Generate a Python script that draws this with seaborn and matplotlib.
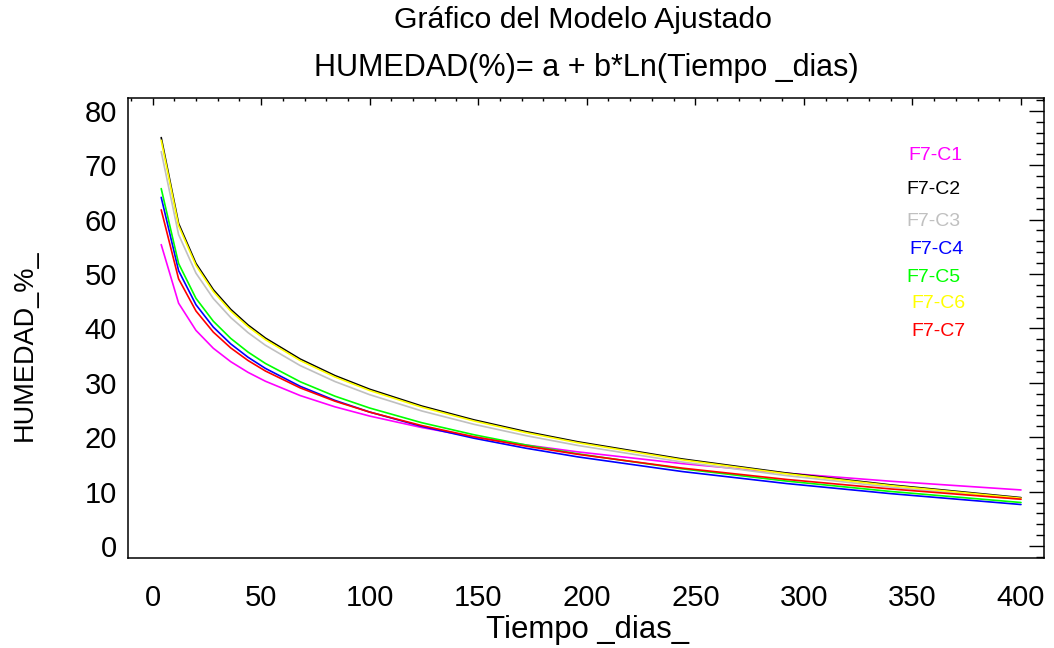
import numpy as np
import pandas as pd
import matplotlib
matplotlib.use("Agg")
import matplotlib.pyplot as plt
import seaborn as sns
from matplotlib.ticker import MultipleLocator

# ---- data ----
tiempo = [4, 12, 20, 28, 36, 44, 52, 68, 84, 100, 124, 148, 172, 196, 244, 292, 340, 400]

f7_c1 = [55.40, 44.64, 39.64, 36.35, 33.89, 31.92, 30.29, 27.66, 25.59, 23.89, 21.78, 20.05, 18.58, 17.30, 15.15, 13.39, 11.91, 10.31]
f7_c2 = [75.08, 59.29, 51.95, 47.12, 43.51, 40.62, 38.22, 34.37, 31.33, 28.82, 25.73, 23.19, 21.03, 19.15, 16.00, 13.42, 11.24, 8.90]
f7_c3 = [72.50, 57.25, 50.16, 45.49, 42.00, 39.22, 36.90, 33.17, 30.24, 27.82, 24.83, 22.38, 20.29, 18.48, 15.44, 12.95, 10.83, 8.58]
f7_c4 = [64.09, 50.62, 44.36, 40.24, 37.16, 34.70, 32.65, 29.36, 26.77, 24.63, 21.99, 19.82, 17.98, 16.38, 13.69, 11.49, 9.63, 7.63]
f7_c5 = [65.70, 51.93, 45.53, 41.32, 38.17, 35.65, 33.56, 30.20, 27.55, 25.37, 22.67, 20.46, 18.57, 16.94, 14.19, 11.94, 10.03, 8.00]
f7_c6 = [74.59, 58.89, 51.59, 46.78, 43.19, 40.32, 37.94, 34.10, 31.08, 28.59, 25.52, 22.99, 20.84, 18.98, 15.84, 13.28, 11.11, 8.78]
f7_c7 = [61.80, 49.11, 43.21, 39.32, 36.42, 34.10, 32.17, 29.07, 26.63, 24.62, 22.14, 20.09, 18.36, 16.85, 14.32, 12.24, 10.49, 8.61]

series_names = ["F7-C1", "F7-C2", "F7-C3", "F7-C4", "F7-C5", "F7-C6", "F7-C7"]
series_values = [f7_c1, f7_c2, f7_c3, f7_c4, f7_c5, f7_c6, f7_c7]
series_colors = ["#FF00FF", "#000000", "#C0C0C0", "#0000FF", "#00FF00", "#FFFF00", "#FF0000"]

x_ticks = [0, 50, 100, 150, 200, 250, 300, 350, 400]
y_ticks = [0, 10, 20, 30, 40, 50, 60, 70, 80]

title1 = "Gráfico del Modelo Ajustado"
title2 = "HUMEDAD(%)= a + b*Ln(Tiempo _dias)"
x_label = "Tiempo _dias_"
y_label = "HUMEDAD_%_"

# ---- build long table ----
rows = []
for name, vals in zip(series_names, series_values):
    for t, v in zip(tiempo, vals):
        rows.append({"tiempo": t, "humedad": v, "serie": name})
df = pd.DataFrame(rows)

sns.set_style("white")
plt.rcParams["font.family"] = ["Liberation Sans", "DejaVu Sans"]
plt.rcParams["text.color"] = "black"
plt.rcParams["xtick.color"] = "black"
plt.rcParams["ytick.color"] = "black"
plt.rcParams["xtick.labelcolor"] = "black"
plt.rcParams["ytick.labelcolor"] = "black"

W, H = 1054, 648
fig = plt.figure(figsize=(W / 100, H / 100), dpi=100)
ax = fig.add_axes([128 / W, 1 - 558 / H, (1044 - 128) / W, (558 - 98.3) / H])

palette = dict(zip(series_names, series_colors))
sns.lineplot(data=df, x="tiempo", y="humedad", hue="serie", palette=palette,
             hue_order=series_names, legend=False, linewidth=1.2, ax=ax,
             estimator=None, sort=True)

ax.set_xlim(-11.3, 410.6)
ax.set_ylim(-2.2, 82.3)
ax.set_xticks(x_ticks)
ax.set_yticks(y_ticks)
ax.xaxis.set_minor_locator(MultipleLocator(10))
ax.yaxis.set_minor_locator(MultipleLocator(2))

ax.tick_params(axis="both", which="both", direction="in", top=True, right=True,
               color="black", labelcolor="black", width=1.0)
ax.tick_params(axis="x", which="major", length=5, pad=19, labelsize=21)
ax.tick_params(axis="x", which="minor", length=2.5)
ax.tick_params(axis="y", which="major", length=11, pad=8, labelsize=21)
ax.tick_params(axis="y", which="minor", length=6)

for sp in ax.spines.values():
    sp.set_visible(True)
    sp.set_color("black")
    sp.set_linewidth(1.1)

ax.set_xlabel("")
ax.set_ylabel("")
fig.text(588 / W, 1 - 630 / H, x_label, ha="center", va="center", fontsize=22.4)
fig.text(25 / W, 1 - 345 / H, y_label, ha="center", va="center", fontsize=19.5, rotation=90)
fig.text(583 / W, 1 - 20 / H, title1, ha="center", va="center", fontsize=21.8)
fig.text(586 / W, 1 - 68 / H, title2, ha="center", va="center", fontsize=22)

legend_pos = [(908, 156), (906, 189), (906, 221), (909, 250), (906, 278), (911, 304), (911, 331)]
for name, col, (px, py) in zip(series_names, series_colors, legend_pos):
    fig.text(px / W, 1 - py / H, name, ha="left", va="center", fontsize=14, color=col)

fig.savefig("out.png", dpi=100)
